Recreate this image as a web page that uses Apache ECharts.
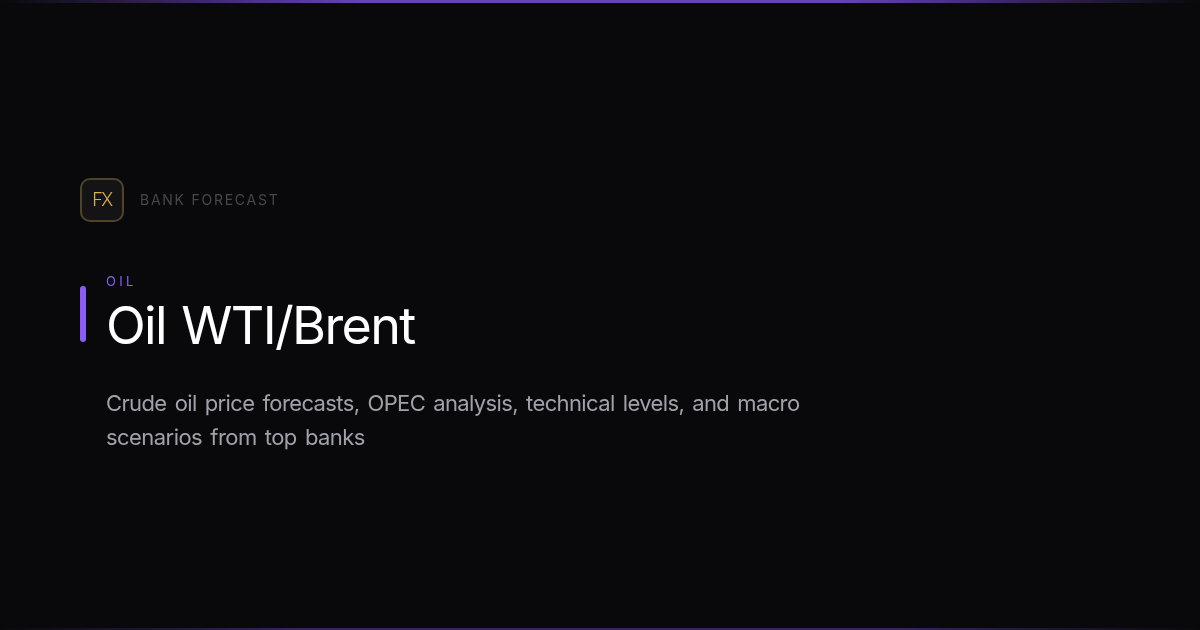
<!DOCTYPE html>
<html><head><meta charset="utf-8">
<style>html,body{margin:0;padding:0;background:#09090b}#c{width:1200px;height:630px}</style>
<script src="https://cdn.jsdelivr.net/npm/echarts@6/dist/echarts.min.js"></script>
</head><body><div id="c"></div>
<script>
const badgeText = "FX";
const brandText = "BANK FORECAST";
const categoryText = "OIL";
const titleText = "Oil WTI/Brent";
const descLines = ["Crude oil price forecasts, OPEC analysis, technical levels, and macro", "scenarios from top banks"];
const FONT = "Inter, sans-serif";
const spacing = {[brandText]:["1.75px","0px"],[categoryText]:["3.3px","0px"],[titleText]:["-1.65px","2.2px"],[descLines[0]]:["-0.62px","2.5px"],[descLines[1]]:["-0.55px","2.5px"],[badgeText]:["-1.5px","0px"]};
const origFill = CanvasRenderingContext2D.prototype.fillText;
CanvasRenderingContext2D.prototype.fillText = function(t,x,y,m){
  const s = spacing[t] || ["0px","0px"];
  this.letterSpacing = s[0]; this.wordSpacing = s[1];
  return m===undefined ? origFill.call(this,t,x,y) : origFill.call(this,t,x,y,m);
};
const chart = echarts.init(document.getElementById('c'),null,{renderer:'canvas',width:1200,height:630});
const grad=(stops)=>new echarts.graphic.LinearGradient(0,0,1,0,stops);
const text=(t,x,y,size,fill,weight)=>({type:'text',x,y,style:{text:t,fill,font:`${weight||400} ${size}px ${FONT}`,verticalAlign:'middle',align:'left'}});
chart.setOption({
  backgroundColor:'#09090b',
  graphic:{elements:[
    {type:'rect',shape:{x:0,y:0,width:1200,height:3},style:{fill:grad([{offset:0,color:'rgba(104,66,184,0)'},{offset:0.3,color:'#6842b8'},{offset:0.7,color:'#6842b8'},{offset:1,color:'rgba(104,66,184,0)'}])}},
    {type:'rect',shape:{x:0,y:628,width:1200,height:2},style:{fill:grad([{offset:0,color:'rgba(124,77,220,0)'},{offset:0.25,color:'rgba(124,77,220,0.4)'},{offset:0.75,color:'rgba(124,77,220,0.4)'},{offset:1,color:'rgba(124,77,220,0)'}])}},
    {type:'rect',shape:{x:81,y:179,width:42,height:42,r:9},style:{fill:'#141416',stroke:'#4f4328',lineWidth:2}},
    {type:'text',x:102,y:201,style:{text:badgeText,fill:'#dcb04a',font:`300 18px ${FONT}`,align:'center',verticalAlign:'middle'}},
    text(brandText,140,201,14,'#47474c'),
    text(categoryText,106,282,13,'#8b5cf6'),
    {type:'rect',shape:{x:80,y:286,width:6,height:56,r:3},style:{fill:'#8b5cf6'}},
    text(titleText,106,328,52,'#ffffff',400),
    text(descLines[0],106,404,22,'#a1a1aa'),
    text(descLines[1],106,438,22,'#a1a1aa')
  ]}
});
</script></body></html>
